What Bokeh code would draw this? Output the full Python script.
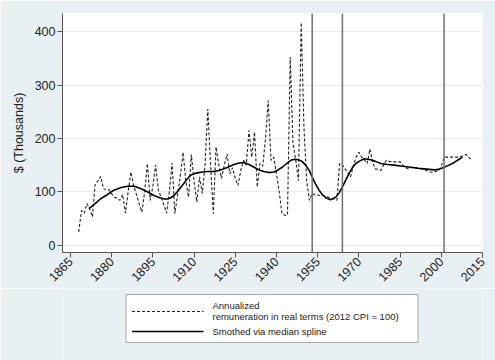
from math import pi
from bokeh.plotting import figure
from bokeh.layouts import column
from bokeh.models import Span, Legend, LegendItem, FixedTicker, Range1d
from bokeh.embed import file_html
from bokeh.resources import INLINE

# ---- data ----
years = list(range(1868, 2012))
remuneration = [
    25, 65, 60, 78, 68, 53, 115, 120, 129, 106,          # 1868-1877
    103, 104, 96, 90, 88, 84, 95, 60, 100, 137,          # 1878-1887
    112, 95, 78, 62, 100, 153, 84, 110, 150, 103,        # 1888-1897
    90, 75, 60, 100, 154, 59, 95, 130, 174, 120,         # 1898-1907
    90, 170, 120, 81, 128, 97, 150, 255, 150, 59,        # 1908-1917
    184, 150, 125, 150, 171, 134, 145, 125, 112, 140,    # 1918-1927
    159, 150, 215, 165, 212, 109, 153, 148, 200, 271,    # 1928-1937
    159, 165, 134, 100, 59, 56, 56, 352, 190, 160,       # 1938-1947
    121, 417, 221, 120, 84, 97, 94, 94, 93, 93,          # 1948-1957
    92, 90, 88, 86, 84, 153, 150, 143, 135, 128,         # 1958-1967
    150, 165, 174, 165, 160, 153, 180, 155, 143, 142,    # 1968-1977
    140, 150, 159, 157, 156, 156, 156, 156, 150, 145,    # 1978-1987
    143, 145, 146, 145, 144, 143, 141, 139, 137, 136,    # 1988-1997
    138, 140, 148, 165, 165, 165, 165, 165, 165, 166,    # 1998-2007
    168, 170, 165, 160,                                  # 2008-2011
]

smooth_years = [1871.7, 1874, 1876, 1878.5, 1880.8, 1883.5, 1886.3, 1888.5, 1890.5,
                1893, 1895.4, 1897.5, 1899.6, 1901.2, 1902.7, 1904.2, 1905.7, 1907.2,
                1908.7, 1910.8, 1913, 1915, 1917.2, 1919, 1920.9, 1922.7, 1924.5,
                1926.4, 1928.2, 1930, 1931.8, 1933.6, 1935.4, 1937.2, 1939.1, 1940.6,
                1942.1, 1943.7, 1945.2, 1946.6, 1948, 1949.3, 1950.6, 1951.8, 1953,
                1954.2, 1955.5, 1956.7, 1957.9, 1959.7, 1961.6, 1962.8, 1964, 1965.2,
                1966.4, 1967.6, 1968.9, 1970.4, 1971.9, 1974.3, 1976, 1978, 1980.4,
                1982.8, 1985.8, 1988.9, 1991.3, 1993.8, 1995.6, 1997.4, 1999.2, 2001,
                2002.8, 2004.7, 2006.2, 2007.7]
smooth_values = [68.5, 78, 87, 95, 103, 108, 111, 110, 106,
                 100, 93, 89, 86, 88, 93, 102, 112, 122,
                 131, 135, 137, 138, 138, 140, 143, 147, 151,
                 154, 155, 151, 146, 141, 138, 136, 137, 141,
                 146, 153, 159, 161, 160, 157, 150, 141, 128,
                 115, 103, 95, 89, 85, 90, 98, 109, 122,
                 134, 145, 153, 158, 162, 160, 157, 153, 151,
                 150, 148, 146, 144, 143, 142, 141, 142, 146,
                 150, 155, 160, 165]

event_years = [1953, 1964, 2001]
x_ticks = [1865, 1880, 1895, 1910, 1925, 1940, 1955, 1970, 1985, 2000, 2015]
y_ticks = [0, 100, 200, 300, 400]
legend_labels = ["Annualized\nremuneration in real terms (2012 CPI = 100)",
                 "Smothed via median spline"]

BG = "#e9f0f3"
FONT = "Liberation Sans"

p = figure(width=495, height=288, output_backend="svg", toolbar_location=None,
           x_range=Range1d(1862.1, 2015), y_range=Range1d(-13.7, 434),
           min_border_left=62, min_border_right=13, min_border_top=13,
           min_border_bottom=36)
p.background_fill_color = "white"
p.border_fill_color = BG
p.outline_line_color = None

# grid
p.xgrid.grid_line_color = None
p.ygrid.grid_line_color = "#e6eef1"
p.ygrid.grid_line_width = 1
p.ygrid.ticker = FixedTicker(ticks=y_ticks)

# axes
for ax in (p.xaxis[0], p.yaxis[0]):
    ax.axis_line_color = "#555555"
    ax.major_tick_line_color = "#555555"
    ax.major_tick_out = 5
    ax.major_tick_in = 0
    ax.minor_tick_line_color = None
    ax.major_label_text_font = FONT
    ax.major_label_text_color = "#222222"
    ax.major_label_text_font_size = "12.5px"
    ax.major_label_standoff = 2

p.xaxis.ticker = FixedTicker(ticks=x_ticks)
p.xaxis.major_label_orientation = pi / 4
p.yaxis.ticker = FixedTicker(ticks=y_ticks)
p.yaxis.axis_label = "$ (Thousands)"
p.yaxis.axis_label_text_font = FONT
p.yaxis.axis_label_text_font_style = "normal"
p.yaxis.axis_label_text_font_size = "12.5px"
p.yaxis.axis_label_text_color = "#222222"
p.yaxis.axis_label_standoff = 6

# event lines
for yr in event_years:
    p.add_layout(Span(location=yr, dimension="height", line_color="#6e6e6e",
                      line_width=1.5))

RAW_STYLE = dict(line_color="#222222", line_width=1.1, line_dash="3 2")
SMOOTH_STYLE = dict(line_color="black", line_width=1.6)

p.line(years, remuneration, **RAW_STYLE)
p.line(smooth_years, smooth_values, **SMOOTH_STYLE)

# ---- legend strip below the chart (series drawn off-range, only the key shows) ----
q = figure(width=495, height=72, output_backend="svg", toolbar_location=None,
           x_range=Range1d(0, 1), y_range=Range1d(0, 1),
           min_border_left=62, min_border_right=13, min_border_top=0,
           min_border_bottom=0)
q.axis.visible = False
q.grid.visible = False
q.outline_line_color = None
q.background_fill_color = BG
q.border_fill_color = BG
l_raw = q.line(years, remuneration, **RAW_STYLE)
l_smooth = q.line(smooth_years, smooth_values, **SMOOTH_STYLE)

legend = Legend(items=[
    LegendItem(label=legend_labels[0], renderers=[l_raw]),
    LegendItem(label=legend_labels[1], renderers=[l_smooth]),
], location="top_center")
legend.label_text_font = FONT
legend.label_text_font_size = "9.5px"
legend.label_text_color = "#222222"
legend.label_text_line_height = 1.1
legend.glyph_width = 72
legend.glyph_height = 12
legend.label_standoff = 9
legend.label_width = 200
legend.padding = 5
legend.spacing = 3
legend.margin = 6
legend.border_line_color = "#555555"
legend.border_line_width = 1
legend.background_fill_color = "white"
legend.background_fill_alpha = 1
q.add_layout(legend, "center")

html = file_html(column(p, q, spacing=0), INLINE)
html = html.replace("<body>", '<body style="background-color:%s;margin:0;overflow:hidden;">' % BG, 1)
open("out.html", "w").write(html)
